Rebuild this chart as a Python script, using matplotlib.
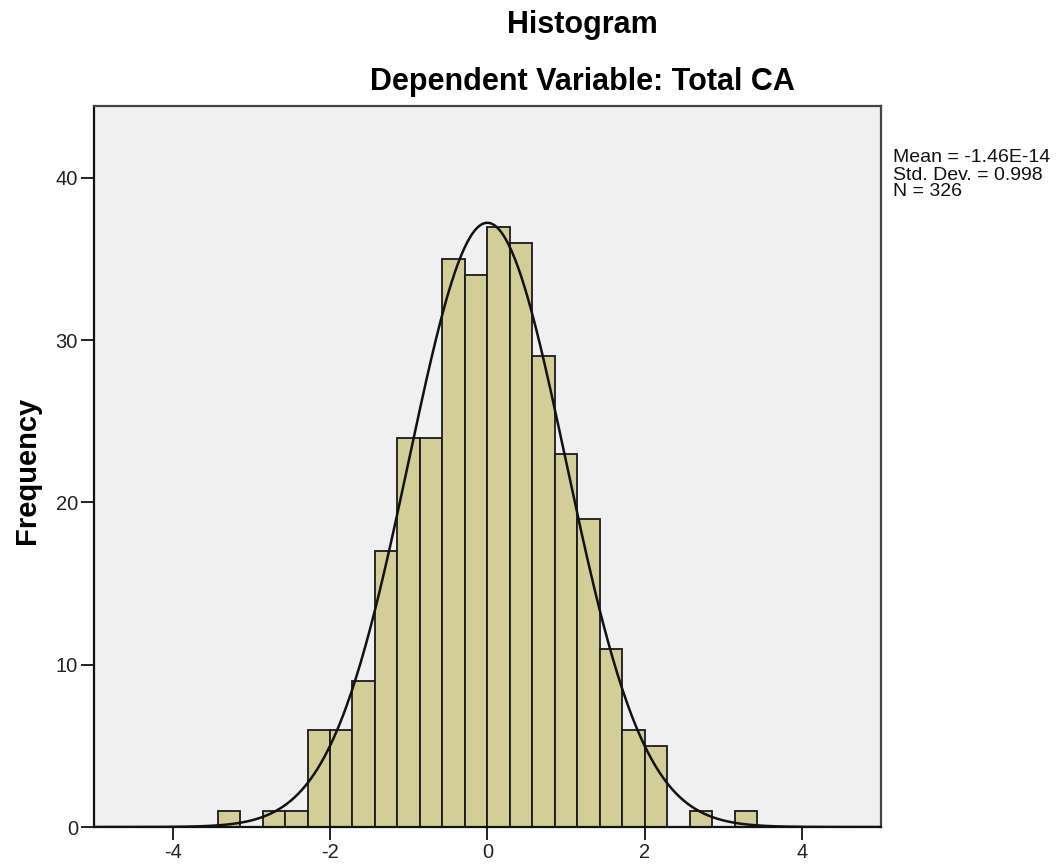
import numpy as np
import matplotlib
matplotlib.use("Agg")
import matplotlib.pyplot as plt

plt.rcParams['font.family'] = ['Liberation Sans', 'DejaVu Sans']
plt.rcParams['axes.unicode_minus'] = False

# histogram of regression standardized residuals (SPSS style)
bin_width = 2 / 7
first_edge = -12 * bin_width
counts = [1, 0, 1, 1, 6, 6, 9, 17, 24, 24, 35, 34,
          37, 36, 29, 23, 19, 11, 6, 5, 0, 1, 0, 1]
mean = -1.46e-14
std_dev = 0.998
n_obs = 326

edges = first_edge + bin_width * np.arange(len(counts) + 1)

fig = plt.figure(figsize=(10.63, 8.64), dpi=100)
ax = fig.add_axes([0.0884, 0.0428, 0.7401, 0.8349])
ax.set_facecolor('#F0F0F0')

ax.bar(edges[:-1], counts, width=bin_width, align='edge',
       color='#D3CE97', edgecolor='#1a1a1a', linewidth=1.3)

xs = np.linspace(-5, 5, 500)
pdf = np.exp(-0.5 * ((xs - mean) / std_dev) ** 2) / (std_dev * np.sqrt(2 * np.pi))
ax.plot(xs, n_obs * bin_width * pdf, color='#111111', linewidth=1.8)

ax.set_xlim(-5, 5)
ax.set_ylim(0, 44.45)
ax.set_xticks([-4, -2, 0, 2, 4])
ax.set_yticks([0, 10, 20, 30, 40])
ax.tick_params(axis='both', length=9.5, width=1.4, color='#222222',
               labelsize=14.5, labelcolor='#222222', pad=2)

for side in ['left', 'bottom']:
    ax.spines[side].set_color('#111111')
    ax.spines[side].set_linewidth(1.6)
for side in ['top', 'right']:
    ax.spines[side].set_color('#444444')
    ax.spines[side].set_linewidth(1.6)

fig.text(582 / 1063, 1 - 25 / 864, 'Histogram', ha='center', va='center',
         fontsize=22, fontweight='bold')
fig.text(582 / 1063, 1 - 82 / 864, 'Dependent Variable: Total CA',
         ha='center', va='center', fontsize=22, fontweight='bold')
fig.text(27 / 1063, 1 - 470 / 864, 'Frequency', rotation=90,
         ha='center', va='center', fontsize=21, fontweight='bold')

stats = ['Mean = -1.46E-14', 'Std. Dev. = 0.998', 'N = %d' % n_obs]
for i, line in enumerate(stats):
    fig.text(893 / 1063, 1 - (158 + 17 * i) / 864, line,
             ha='left', va='center', fontsize=14, color='#111111')

fig.savefig('out.png', dpi=100)
